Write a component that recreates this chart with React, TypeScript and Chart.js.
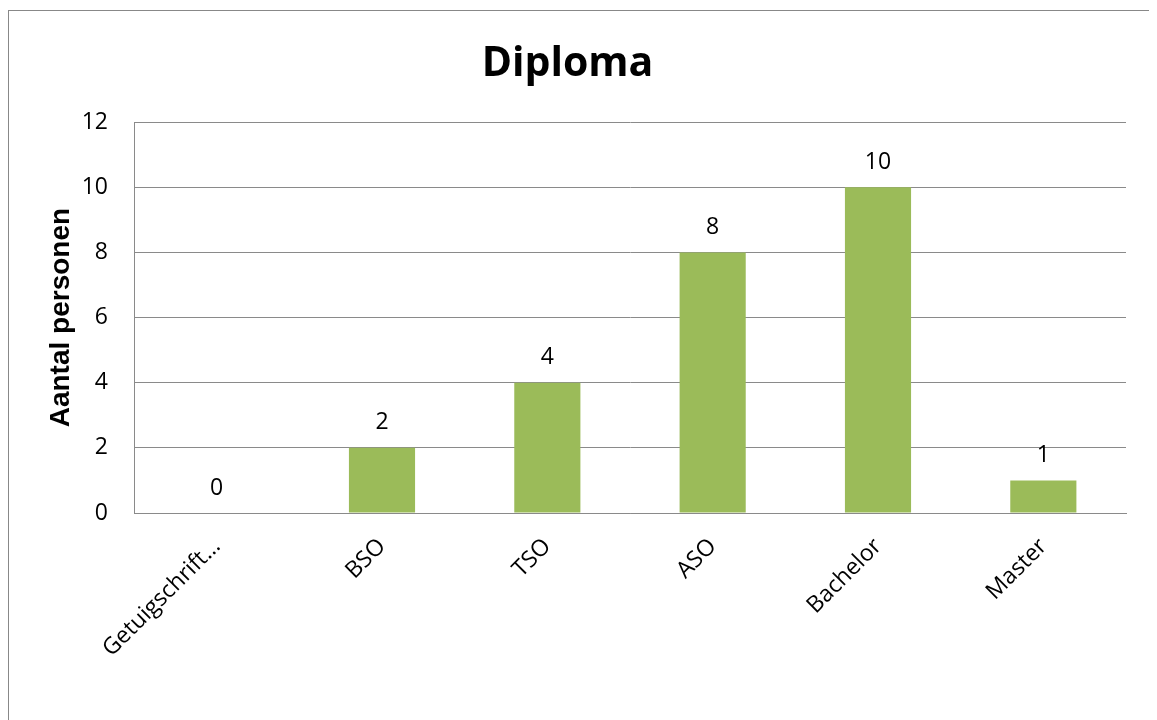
import React, { useEffect, useRef } from "react";
import { Chart, registerables } from "chart.js";

Chart.register(...registerables);

const categories = ["Getuigschrift…", "BSO", "TSO", "ASO", "Bachelor", "Master"];
const personen = [0, 2, 4, 8, 10, 1];
const yTicks = [0, 2, 4, 6, 8, 10, 12];

const chartTitle = "Diploma";
const yTitle = "Aantal personen";

const GRID = "#8a8a8a";
const BAR = "#9BBB59";
const TICK_FONT = "'Open Sans', sans-serif";

const valueLabels = {
  id: "valueLabels",
  afterDatasetsDraw(chart: any) {
    const { ctx } = chart;
    const meta = chart.getDatasetMeta(0);
    ctx.save();
    ctx.fillStyle = "#000";
    ctx.font = `23px ${TICK_FONT}`;
    ctx.textAlign = "center";
    ctx.textBaseline = "middle";
    meta.data.forEach((bar: any, i: number) => {
      ctx.fillText(String(personen[i]), bar.x, bar.y - 25);
    });
    ctx.restore();
  },
};

export default function App() {
  const ref = useRef<HTMLCanvasElement | null>(null);

  useEffect(() => {
    if (!ref.current) return;
    const chart = new Chart(ref.current, {
      type: "bar",
      data: {
        labels: categories,
        datasets: [
          {
            data: personen,
            backgroundColor: BAR,
            borderWidth: 0,
            barPercentage: 0.4,
            categoryPercentage: 1,
          },
        ],
      },
      plugins: [valueLabels],
      options: {
        responsive: false,
        animation: false,
        layout: { padding: { left: 0, right: 28, top: 0, bottom: 0 } },
        plugins: {
          legend: { display: false },
          tooltip: { enabled: false },
          title: {
            display: true,
            text: chartTitle,
            color: "#000",
            font: { family: TICK_FONT, size: 41, weight: "bold" },
            padding: { top: 29, bottom: 33 },
          },
        },
        scales: {
          x: {
            grid: { display: false, drawTicks: false },
            border: { display: true, color: GRID, width: 1 },
            ticks: {
              color: "#000",
              font: { family: TICK_FONT, size: 23 },
              minRotation: 45,
              maxRotation: 45,
              padding: 20,
              autoSkip: false,
            },
            afterFit(scale: any) {
              scale.height = 238;
            },
          },
          y: {
            min: 0,
            max: 12,
            afterBuildTicks(scale: any) {
              scale.ticks = yTicks.map((v) => ({ value: v }));
            },
            grid: { color: GRID, lineWidth: 1, drawTicks: false },
            border: { display: true, color: GRID, width: 1 },
            ticks: {
              color: "#000",
              font: { family: TICK_FONT, size: 23 },
              padding: 26,
            },
            title: {
              display: true,
              text: yTitle,
              color: "#000",
              font: { family: "'Liberation Sans', Arial, sans-serif", size: 28, weight: "bold" },
              padding: { top: 35, bottom: 0 },
            },
            afterFit(scale: any) {
              scale.width = 125;
            },
          },
        },
      },
    });
    return () => chart.destroy();
  }, []);

  return (
    <div
      style={{
        position: "relative",
        top: 2,
        width: 1147,
        height: 760,
        boxSizing: "border-box",
        border: "1px solid #888",
        background: "#fff",
      }}
    >
      <canvas ref={ref} width={1145} height={740} style={{ display: "block" }} />
    </div>
  );
}
